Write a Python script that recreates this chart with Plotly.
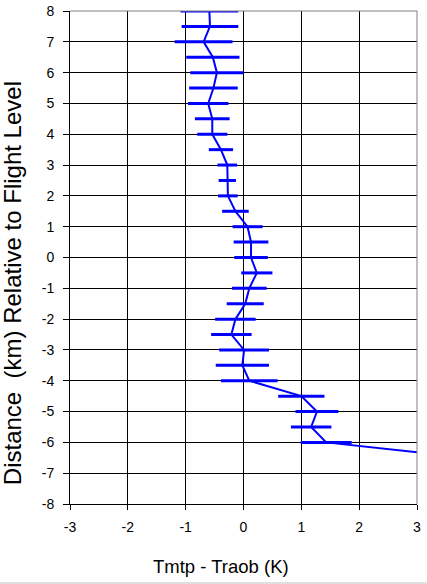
import plotly.graph_objects as go

# Distance relative to flight level (km)
levels = [8, 7.5, 7, 6.5, 6, 5.5, 5, 4.5, 4, 3.5, 3, 2.5, 2, 1.5, 1, 0.5, 0,
          -0.5, -1, -1.5, -2, -2.5, -3, -3.5, -4, -4.5, -5, -5.5, -6, -6.5]
# Mean Tmtp - Traob (K)
mean_diff = [-0.59, -0.58, -0.69, -0.53, -0.46, -0.52, -0.61, -0.54, -0.54, -0.39,
             -0.28, -0.28, -0.27, -0.14, 0.07, 0.13, 0.13, 0.23, 0.10, 0.03,
             -0.14, -0.21, 0.01, -0.02, 0.10, 1.00, 1.27, 1.17, 1.43, 3.9]
# Error bar half-widths (K)
err = [0.50, 0.49, 0.50, 0.46, 0.46, 0.42, 0.35, 0.30, 0.26, 0.21,
       0.17, 0.15, 0.17, 0.23, 0.26, 0.30, 0.29, 0.27, 0.30, 0.32,
       0.35, 0.35, 0.43, 0.46, 0.49, 0.40, 0.37, 0.35, 0.44, 0.40]

x_ticks = [-3, -2, -1, 0, 1, 2, 3]
y_ticks = list(range(-8, 9))

x_title = "Tmtp - Traob (K)"
y_title = "Distance  (km) Relative to Flight Level"

fig = go.Figure()
fig.add_trace(go.Scatter(
    x=mean_diff, y=levels, mode="lines",
    line=dict(color="#0000FF", width=2),
    error_x=dict(type="data", array=err, visible=True, color="#0000FF",
                 thickness=3, width=0),
    showlegend=False, hoverinfo="skip",
))

font = "Arial, Liberation Sans, sans-serif"
fig.update_layout(
    width=427, height=584,
    margin=dict(l=70, r=10, t=11, b=80),
    paper_bgcolor="white", plot_bgcolor="white",
    font=dict(family=font, color="black"),
    xaxis=dict(range=[-3, 3], tickvals=x_ticks, ticktext=[str(v) for v in x_ticks],
               showgrid=True, gridcolor="black", gridwidth=1, zeroline=False,
               showline=True, linecolor="black", linewidth=1,
               ticks="outside", ticklen=5, tickcolor="black",
               tickfont=dict(size=14), automargin=False, ticklabelstandoff=5,
               ticklabeloverflow="allow"),
    yaxis=dict(range=[-8, 8], tickvals=y_ticks, ticktext=[str(v) for v in y_ticks],
               showgrid=True, gridcolor="black", gridwidth=1, zeroline=False,
               showline=True, linecolor="black", linewidth=1,
               ticks="outside", ticklen=6, tickcolor="black",
               tickfont=dict(size=14), automargin=False, ticklabelstandoff=6,
               ticklabeloverflow="allow"),
    annotations=[
        dict(text=x_title, xref="paper", yref="paper", x=0.435, y=-0.126,
             xanchor="center", yanchor="middle", showarrow=False,
             font=dict(size=18.5)),
        dict(text=y_title, xref="paper", yref="paper", x=-0.167, y=0.448,
             xanchor="center", yanchor="middle", showarrow=False, textangle=-90,
             font=dict(size=24)),
    ],
    shapes=[
        dict(type="line", xref="paper", yref="paper", x0=0, x1=1, y0=1, y1=1,
             line=dict(color="#808080", width=1), layer="above"),
        dict(type="line", xref="paper", yref="paper", x0=1, x1=1, y0=0, y1=1,
             line=dict(color="#808080", width=1), layer="above"),
        dict(type="rect", xref="paper", yref="paper", x0=-0.25, x1=1.05,
             y0=-0.165, y1=-0.158, fillcolor="#e0e0e0", line=dict(width=0),
             layer="above"),
    ],
)

fig.write_html("out.html",
               config={"displayModeBar": False},
               post_script="document.body.style.margin='0';document.body.style.overflow='hidden';")
